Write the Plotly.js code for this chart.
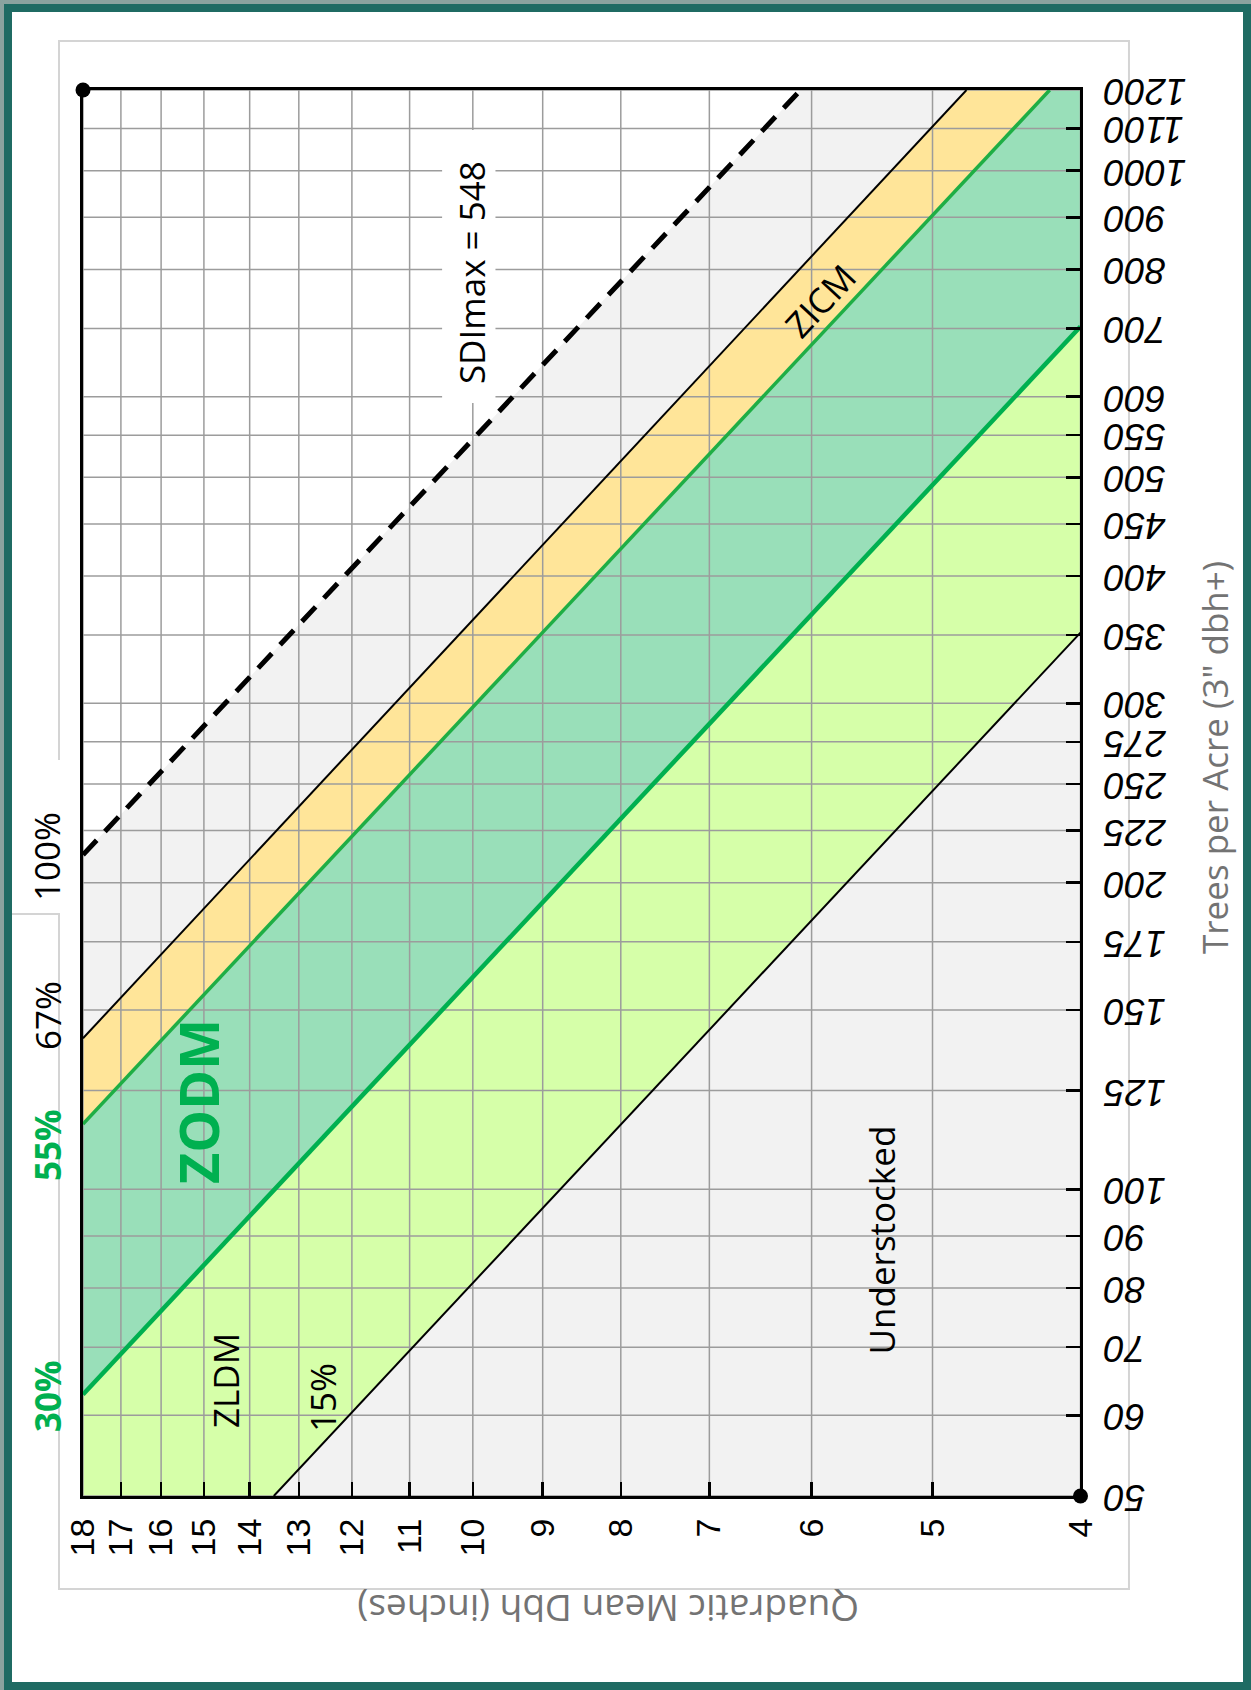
<!DOCTYPE html>
<html><head><meta charset="utf-8">
<script src="https://cdn.plot.ly/plotly-3.0.1.min.js"></script>
<style>
html,body{margin:0;padding:0;background:#fff;}
#wrap{position:relative;width:1251px;height:1690px;overflow:hidden;}
#chart{width:1251px;height:1690px;}
#f1{position:absolute;left:0;top:0;width:1251px;height:1690px;box-sizing:border-box;border-left:4px solid #8ba39f;border-top:4px solid #8ba39f;pointer-events:none;}
#f2{position:absolute;left:4px;top:4px;width:1247px;height:1686px;box-sizing:border-box;border:8px solid #1f6b63;pointer-events:none;}
</style></head>
<body><div id="wrap"><div id="chart"></div><div id="f1"></div><div id="f2"></div></div>
<script>
// ---- data ----
const dbhRange = [4, 18];
const tpaRange = [50, 1200];
const dbhTicks = [4, 5, 6, 7, 8, 9, 10, 11, 12, 13, 14, 15, 16, 17, 18];
const tpaTicks = [50, 60, 70, 80, 90, 100, 125, 150, 175, 200, 225, 250, 275, 300, 350, 400, 450, 500, 550, 600, 700, 800, 900, 1000, 1100, 1200];
// SDImax = 548 (100%)
const sdimaxDbh = [18, 6.1];
const sdimaxTpa = [213, 1200];
// 67% (upper limit of ZICM)
const line67Dbh = [18, 4.75];
const line67Tpa = [140.7, 1200];
// 55% (ZICM / ZODM boundary)
const line55Dbh = [18, 4.19];
const line55Tpa = [115.9, 1200];
// 30% (ZODM / ZLDM boundary)
const line30Dbh = [18, 4];
const line30Tpa = [62.9, 703];
// 15% (lower limit, understocked)
const line15Dbh = [13.5, 4];
const line15Tpa = [50, 352];

// ---- traces ----
const dMin = dbhRange[0], dMax = dbhRange[1], tMin = tpaRange[0], tMax = tpaRange[1];
const lg = v => Math.log(v) / Math.LN10;
const poly = (xs, ys, color) => ({x: xs, y: ys, type: 'scatter', mode: 'lines', fill: 'toself', fillcolor: color, line: {width: 0, color: color}, hoverinfo: 'skip'});

const fillWhite = poly([sdimaxDbh[0], sdimaxDbh[1], dMax], [sdimaxTpa[0], sdimaxTpa[1], tMax], '#ffffff');
const fillZicm = poly([line67Dbh[0], line67Dbh[1], line55Dbh[1], line55Dbh[0]], [line67Tpa[0], line67Tpa[1], line55Tpa[1], line55Tpa[0]], '#ffe599');
const fillZodm = poly([line55Dbh[0], line55Dbh[1], dMin, line30Dbh[1], line30Dbh[0]], [line55Tpa[0], line55Tpa[1], tMax, line30Tpa[1], line30Tpa[0]], '#99dfb9');
const fillZldm = poly([line30Dbh[0], line30Dbh[1], line15Dbh[1], line15Dbh[0], dMax], [line30Tpa[0], line30Tpa[1], line15Tpa[1], line15Tpa[0], tMin], '#d6ffa9');

const gx = [], gy = [];
dbhTicks.forEach(t => { gx.push(t, t, null); gy.push(tMin, tMax, null); });
tpaTicks.forEach(t => { gx.push(dMin, dMax, null); gy.push(t, t, null); });
const grid = {x: gx, y: gy, type: 'scatter', mode: 'lines', line: {color: '#9c9c9c', width: 1.5}, hoverinfo: 'skip', connectgaps: false};

const ln = (xs, ys, color, width, dash) => ({x: xs, y: ys, type: 'scatter', mode: 'lines', line: {color: color, width: width, dash: dash || 'solid'}, hoverinfo: 'skip'});

const traces = [
  fillWhite, fillZicm, fillZodm, fillZldm, grid,
  ln(line67Dbh, line67Tpa, '#000000', 2),
  ln(line15Dbh, line15Tpa, '#000000', 2),
  ln(line55Dbh, line55Tpa, '#1fae45', 3.5),
  ln(line30Dbh, line30Tpa, '#00b050', 4.5),
  ln(sdimaxDbh, sdimaxTpa, '#000000', 5, '20px,12px'),
  {x: [dMax, dMin], y: [tMax, tMin], type: 'scatter', mode: 'markers', marker: {color: '#000', size: 15}, cliponaxis: false, hoverinfo: 'skip'},
  {x: [dMax, dMin], y: [tMax, tMin], yaxis: 'y2', type: 'scatter', mode: 'markers', marker: {color: '#000', size: 15, opacity: 0}, cliponaxis: false, hoverinfo: 'skip'}
];

const labelFont = 'Open Sans, DejaVu Sans, sans-serif';
const ann = (text, x, y, size, angle, color, weight) => ({
  text: text, x: x, y: y, xref: 'x domain', yref: 'y domain', showarrow: false,
  textangle: angle, xanchor: 'center', yanchor: 'middle',
  font: {family: labelFont, size: size, color: color || '#000', weight: weight || 400}
});

const annotations = [
  ann('SDImax = 548', 0.389, 0.8698, 35, -90),
  ann('ZICM', 0.7388, 0.8506, 35, -47),
  ann('ZODM', 0.1153, 0.2802, 54, -90, '#00b050', 700),
  ann('ZLDM', 0.1434, 0.0818, 35, -90),
  ann('15%', 0.2396, 0.0697, 35, -90),
  ann('Understocked', 0.8005, 0.1821, 35, -90),
  ann('100%', -0.0361, 0.4552, 35, -90),
  ann('67%', -0.0361, 0.3421, 35, -90),
  ann('55%', -0.0361, 0.2496, 35, -90, '#00b050', 700),
  ann('30%', -0.0361, 0.0711, 35, -90, '#00b050', 700),
  ann('Trees per Acre (3" dbh+)', 1.1338, 0.5256, 35, -90, '#737373'),
  ann('Quadratic Mean Dbh (inches)', 0.5258, -0.0811, 37, 180, '#737373')
];

const shapes = [
  {type: 'rect', xref: 'x domain', yref: 'y domain', x0: -0.02406, x1: 1.0486, y0: -0.0661, y1: 1.0349, line: {color: '#d4d4d4', width: 2}, fillcolor: 'rgba(0,0,0,0)', layer: 'below'},
  {type: 'rect', xref: 'x domain', yref: 'y domain', x0: -0.0792, x1: -0.02005, y0: 0.4139, y1: 0.5235, line: {width: 0}, fillcolor: '#ffffff', layer: 'above'},
  {type: 'line', xref: 'x domain', yref: 'y domain', x0: -0.0712, x1: -0.0231, y0: 0.4139, y1: 0.4139, line: {color: '#d4d4d4', width: 2}, layer: 'above'},
  {type: 'rect', xref: 'x domain', yref: 'y domain', x0: 0.3600, x1: 0.4135, y0: 0.7774, y1: 0.9716, line: {width: 0}, fillcolor: '#ffffff', layer: 'above'}
];

const layout = {
  width: 1251, height: 1690,
  margin: {l: 83, r: 147, t: 90, b: 194},
  paper_bgcolor: '#ffffff', plot_bgcolor: '#f2f2f2',
  showlegend: false, hovermode: false,
  xaxis: {
    type: 'log', range: [lg(dMax), lg(dMin)], domain: [0, 0.97698],
    tickmode: 'array', tickvals: dbhTicks, ticktext: dbhTicks.map(String), tickangle: -90,
    ticks: 'inside', ticklen: 14, tickwidth: 2.5, tickcolor: '#000', ticklabelstandoff: 6,
    showline: true, linecolor: '#000', linewidth: 3, mirror: true,
    showgrid: false, zeroline: false,
    tickfont: {family: 'Liberation Sans, Arial, sans-serif', size: 34, color: '#000'}
  },
  yaxis: {
    type: 'log', range: [lg(tMin), lg(tMax)], side: 'right',
    tickmode: 'array', tickvals: tpaTicks, showticklabels: false,
    ticks: 'inside', ticklen: 14, tickwidth: 2.5, tickcolor: '#000',
    showline: true, linecolor: '#000', linewidth: 3, mirror: true,
    showgrid: false, zeroline: false
  },
  yaxis2: {
    type: 'log', range: [lg(tMin), lg(tMax)], overlaying: 'y', anchor: 'free', position: 1, side: 'left',
    tickmode: 'array', tickvals: tpaTicks, ticktext: tpaTicks.map(String), tickangle: 180,
    ticks: '', showline: false, showgrid: false, zeroline: false, ticklabelshift: 13,
    tickfont: {family: 'Liberation Sans, Arial, sans-serif', size: 37, color: '#000', style: 'italic'}
  },
  annotations: annotations,
  shapes: shapes
};

Plotly.newPlot('chart', traces, layout, {staticPlot: true, displayModeBar: false});
</script>
</body></html>
